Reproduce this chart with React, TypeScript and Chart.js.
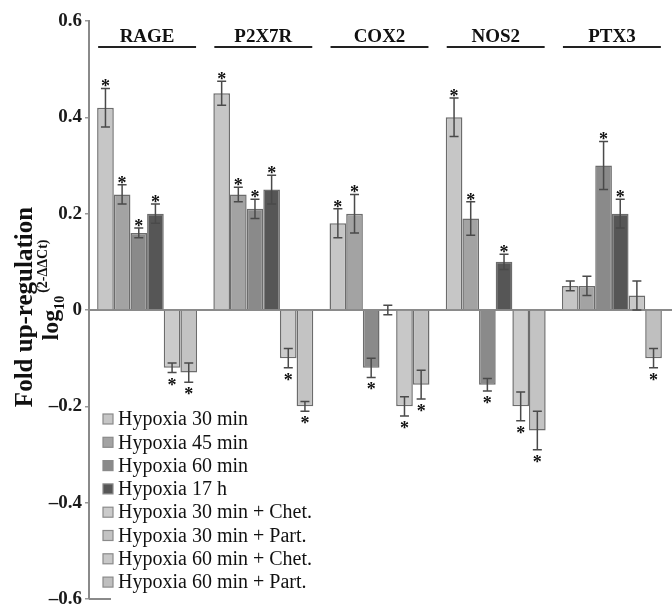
import React, { useEffect, useRef } from 'react';
import { Chart, registerables } from 'chart.js';

Chart.register(...registerables);

const FONT = '"Liberation Serif", "Times New Roman", serif';

const genes = ['RAGE', 'P2X7R', 'COX2', 'NOS2', 'PTX3'];
const yTicks = [-0.6, -0.4, -0.2, 0, 0.2, 0.4, 0.6];

const seriesNames = [
  'Hypoxia 30 min',
  'Hypoxia 45 min',
  'Hypoxia 60 min',
  'Hypoxia 17 h',
  'Hypoxia 30 min + Chet.',
  'Hypoxia 30 min + Part.',
  'Hypoxia 60 min + Chet.',
  'Hypoxia 60 min + Part.',
];

const hyp30 = [0.42, 0.45, 0.18, 0.40, 0.05];
const hyp30Err = [0.04, 0.025, 0.03, 0.04, 0.01];
const hyp30Sig = [true, true, true, true, false];

const hyp45 = [0.24, 0.24, 0.20, 0.19, 0.05];
const hyp45Err = [0.02, 0.015, 0.04, 0.035, 0.02];
const hyp45Sig = [true, true, true, true, false];

const hyp60 = [0.16, 0.21, -0.12, -0.155, 0.30];
const hyp60Err = [0.01, 0.02, 0.02, 0.013, 0.05];
const hyp60Sig = [true, true, true, true, true];

const hyp17h = [0.20, 0.25, 0.0, 0.10, 0.20];
const hyp17hErr = [0.02, 0.03, 0.01, 0.016, 0.03];
const hyp17hSig = [true, true, false, true, true];

const hyp30Chet = [-0.12, -0.10, null, -0.20, null];
const hyp30ChetErr = [0.01, 0.02, null, 0.03, null];
const hyp30ChetSig = [true, true, false, true, false];

const hyp30Part = [-0.13, -0.20, null, -0.25, null];
const hyp30PartErr = [0.02, 0.01, null, 0.04, null];
const hyp30PartSig = [true, true, false, true, false];

const hyp60Chet = [null, null, -0.20, null, 0.03];
const hyp60ChetErr = [null, null, 0.02, null, 0.03];
const hyp60ChetSig = [false, false, true, false, false];

const hyp60Part = [null, null, -0.155, null, -0.10];
const hyp60PartErr = [null, null, 0.03, null, 0.02];
const hyp60PartSig = [false, false, true, false, true];

const seriesValues = [hyp30, hyp45, hyp60, hyp17h, hyp30Chet, hyp30Part, hyp60Chet, hyp60Part];
const seriesErrors = [hyp30Err, hyp45Err, hyp60Err, hyp17hErr, hyp30ChetErr, hyp30PartErr, hyp60ChetErr, hyp60PartErr];
const seriesSig = [hyp30Sig, hyp45Sig, hyp60Sig, hyp17hSig, hyp30ChetSig, hyp30PartSig, hyp60ChetSig, hyp60PartSig];
const seriesColors = ['#c6c6c6', '#a3a3a3', '#8a8a8a', '#565656', '#cbcbcb', '#c3c3c3', '#c8c8c8', '#bfbfbf'];

const fmt = (v: number) => {
  const r = Math.round(v * 10) / 10;
  if (r === 0) return '0';
  return (r < 0 ? '\u2013' : '') + Math.abs(r).toFixed(1);
};

const extras = {
  id: 'extras',
  beforeDatasetsDraw(chart: any) {
    const { ctx, chartArea, scales } = chart;
    const y0 = scales.y.getPixelForValue(0);
    ctx.save();
    ctx.strokeStyle = '#8a8a8a';
    ctx.lineWidth = 2;
    ctx.beginPath();
    ctx.moveTo(chartArea.left, y0);
    ctx.lineTo(chart.width, y0);
    ctx.stroke();
    // short bottom line
    ctx.beginPath();
    ctx.moveTo(chartArea.left, chartArea.bottom);
    ctx.lineTo(chartArea.left + 22, chartArea.bottom);
    ctx.stroke();
    ctx.restore();
  },
  afterDatasetsDraw(chart: any) {
    const { ctx, scales } = chart;
    const ys = scales.y;
    ctx.save();
    // error bars and asterisks
    chart.data.datasets.forEach((ds: any, i: number) => {
      const meta = chart.getDatasetMeta(i);
      meta.data.forEach((bar: any, j: number) => {
        const v = ds.data[j];
        const e = ds.errors[j];
        if (v === null || v === undefined || e === null) return;
        const x = bar.x;
        const yt = ys.getPixelForValue(v + e);
        const yb = ys.getPixelForValue(v - e);
        ctx.strokeStyle = '#4a4a4a';
        ctx.lineWidth = 1.5;
        ctx.beginPath();
        ctx.moveTo(x, yt);
        ctx.lineTo(x, yb);
        ctx.moveTo(x - 4.5, yt);
        ctx.lineTo(x + 4.5, yt);
        ctx.moveTo(x - 4.5, yb);
        ctx.lineTo(x + 4.5, yb);
        ctx.stroke();
        if (ds.sig[j]) {
          ctx.fillStyle = '#111';
          ctx.font = `bold 18px ${FONT}`;
          ctx.textAlign = 'center';
          ctx.textBaseline = 'alphabetic';
          const cy = v >= 0 ? yt - 6 : yb + 8;
          ctx.fillText('*', x, cy + 10);
        }
      });
    });
    // gene headers with underline
    genes.forEach((g, j) => {
      let minX = Infinity;
      let maxX = -Infinity;
      chart.data.datasets.forEach((ds: any, i: number) => {
        if (ds.data[j] === null) return;
        const bar: any = chart.getDatasetMeta(i).data[j];
        minX = Math.min(minX, bar.x - bar.width / 2);
        maxX = Math.max(maxX, bar.x + bar.width / 2);
      });
      const cx = (minX + maxX) / 2;
      ctx.fillStyle = '#111';
      ctx.font = `bold 19px ${FONT}`;
      ctx.textAlign = 'center';
      ctx.textBaseline = 'alphabetic';
      ctx.fillText(g, cx, 42);
      ctx.strokeStyle = '#222';
      ctx.lineWidth = 2;
      ctx.beginPath();
      ctx.moveTo(minX + 1, 47);
      ctx.lineTo(maxX - 1, 47);
      ctx.stroke();
    });
    // legend
    chart.data.datasets.forEach((ds: any, i: number) => {
      const cy = 419 + i * 23.3;
      ctx.fillStyle = ds.backgroundColor;
      ctx.fillRect(103, cy - 5, 10, 10);
      ctx.strokeStyle = '#8a8a8a';
      ctx.lineWidth = 1.2;
      ctx.strokeRect(103, cy - 5, 10, 10);
      ctx.fillStyle = '#111';
      ctx.font = `20px ${FONT}`;
      ctx.textAlign = 'left';
      ctx.textBaseline = 'middle';
      ctx.fillText(ds.label, 118, cy + 1);
    });
    // y axis title
    ctx.fillStyle = '#111';
    ctx.save();
    ctx.translate(26, 307);
    ctx.rotate(-Math.PI / 2);
    ctx.font = `bold 25px ${FONT}`;
    ctx.textAlign = 'center';
    ctx.textBaseline = 'middle';
    ctx.fillText('Fold up-regulation', 0, 0);
    ctx.restore();

    ctx.save();
    ctx.translate(52, 290);
    ctx.rotate(-Math.PI / 2);
    ctx.textAlign = 'left';
    ctx.textBaseline = 'alphabetic';
    const f1 = `bold 24px ${FONT}`;
    const f2 = `bold 14px ${FONT}`;
    ctx.font = f1;
    const wLog = ctx.measureText('log').width;
    ctx.font = f2;
    const wSub = ctx.measureText('10').width;
    const sup = '(2-\u0394\u0394Ct)';
    const wSup = ctx.measureText(sup).width;
    const total = wLog + wSub + 3 + wSup;
    let x = -total / 2;
    ctx.font = f1;
    ctx.fillText('log', x, 6);
    x += wLog;
    ctx.font = f2;
    ctx.fillText('10', x, 12);
    x += wSub + 3;
    ctx.fillText(sup, x, -5);
    ctx.restore();
    ctx.restore();
  },
};

export default function App() {
  const ref = useRef<HTMLCanvasElement | null>(null);
  useEffect(() => {
    if (!ref.current) return;
    const datasets = seriesNames.map((name, i) => ({
      label: name,
      data: seriesValues[i],
      errors: seriesErrors[i],
      sig: seriesSig[i],
      backgroundColor: seriesColors[i],
      borderColor: '#6c6c6c',
      borderWidth: 1.5,
      skipNull: true,
      categoryPercentage: 0.86,
      barPercentage: 1.0,
    }));
    const chart = new Chart(ref.current, {
      type: 'bar',
      data: { labels: genes, datasets: datasets as any },
      options: {
        animation: false,
        responsive: false,
        devicePixelRatio: 1,
        layout: { padding: { top: 21, bottom: 5, right: 2, left: 0 } },
        plugins: {
          legend: { display: false },
          tooltip: { enabled: false },
        },
        scales: {
          x: { display: false, grid: { display: false } },
          y: {
            min: -0.6,
            max: 0.6,
            afterFit: (s: any) => {
              s.width = 89;
              s.paddingTop = 0;
              s.paddingBottom = 0;
            },
            afterBuildTicks: (s: any) => {
              s.ticks = yTicks.map((v) => ({ value: v }));
            },
            ticks: {
              font: { family: FONT, size: 19, weight: 'bold' },
              color: '#1a1a1a',
              padding: 3,
              callback: (v: any) => fmt(Number(v)),
            },
            grid: {
              drawOnChartArea: false,
              drawTicks: true,
              tickLength: 4,
              color: '#999',
              lineWidth: 1.5,
            },
            border: { display: true, color: '#8a8a8a', width: 2 },
          },
        },
      },
      plugins: [extras],
    });
    return () => chart.destroy();
  }, []);
  return (
    <div style={{ position: 'fixed', left: 0, top: 0, width: 672, height: 604, background: '#fff' }}>
      <canvas ref={ref} width={672} height={604} style={{ width: 672, height: 604 }} />
    </div>
  );
}
